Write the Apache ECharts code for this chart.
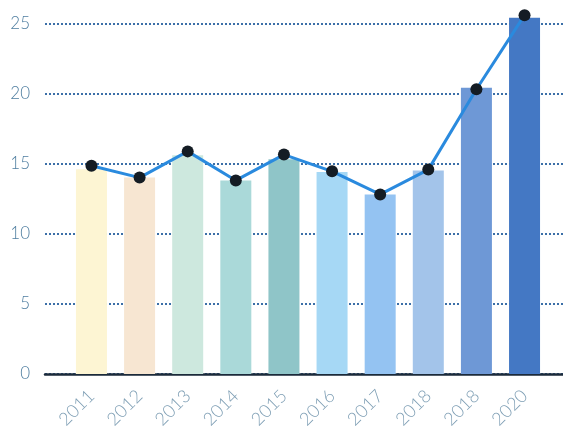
<!DOCTYPE html>
<html>
<head>
<meta charset="utf-8">
<script src="https://cdn.jsdelivr.net/npm/echarts@6/dist/echarts.min.js"></script>
<style>html,body{margin:0;padding:0;background:#fff}#c{width:563px;height:432px}</style>
</head>
<body>
<div id="c"></div>
<script>
var categories = ['2011','2012','2013','2014','2015','2016','2017','2018','2018','2020'];
var barValues = [14.6, 14.0, 15.6, 13.8, 15.3, 14.4, 12.8, 14.5, 20.4, 25.4];
var lineValues = [14.85, 14.0, 15.87, 13.8, 15.64, 14.45, 12.8, 14.57, 20.3, 25.58];
var barColors = ['#fdf5d3','#f7e6d2','#cde8de','#aad9d9','#8fc5c8','#a6d8f5','#94c3f2','#a3c4ea','#6e98d6','#4478c4'];
var yTicks = [0, 5, 10, 15, 20, 25];

var chart = echarts.init(document.getElementById('c'));
chart.setOption({
  animation: false,
  backgroundColor: '#ffffff',
  grid: [
    {left: 45, right: 0, top: 23.3, bottom: 58},
    {left: 67.4, right: 14.4, top: 23.3, bottom: 58}
  ],
  xAxis: [
    {gridIndex: 0, type: 'value', min: 0, max: 1,
     axisLine: {show: true, onZero: false, lineStyle: {color: '#1b2a3a', width: 2.5}},
     axisTick: {show: false}, axisLabel: {show: false}, splitLine: {show: false}},
    {gridIndex: 1, type: 'category', data: categories,
     axisLine: {show: false}, axisTick: {show: false}, splitLine: {show: false},
     axisLabel: {interval: 0, rotate: 45, margin: 19, color: '#7f9fb5',
       fontFamily: 'Lato', fontWeight: 300, fontSize: 18}}
  ],
  yAxis: [
    {gridIndex: 0, type: 'value', min: yTicks[0], max: yTicks[yTicks.length-1], interval: 5,
     axisLine: {show: false}, axisTick: {show: false},
     axisLabel: {margin: 15, color: '#4f7ea0', fontFamily: 'Lato', fontWeight: 300, fontSize: 17},
     splitLine: {show: true, lineStyle: {color: '#3b6fa8', type: [2, 2], width: 2}}},
    {gridIndex: 1, type: 'value', min: 0, max: 25, show: false, splitLine: {show: false}}
  ],
  series: [
    {type: 'bar', xAxisIndex: 1, yAxisIndex: 1, barWidth: 31, clip: false,
     data: barValues.map(function (v, i) { return {value: v, itemStyle: {color: barColors[i]}}; }),
     z: 2},
    {type: 'line', xAxisIndex: 1, yAxisIndex: 1, data: lineValues, clip: false,
     symbol: 'circle', symbolSize: 12,
     lineStyle: {color: '#2a8ade', width: 3},
     itemStyle: {color: '#141c24'}, z: 3}
  ]
});
</script>
</body>
</html>
